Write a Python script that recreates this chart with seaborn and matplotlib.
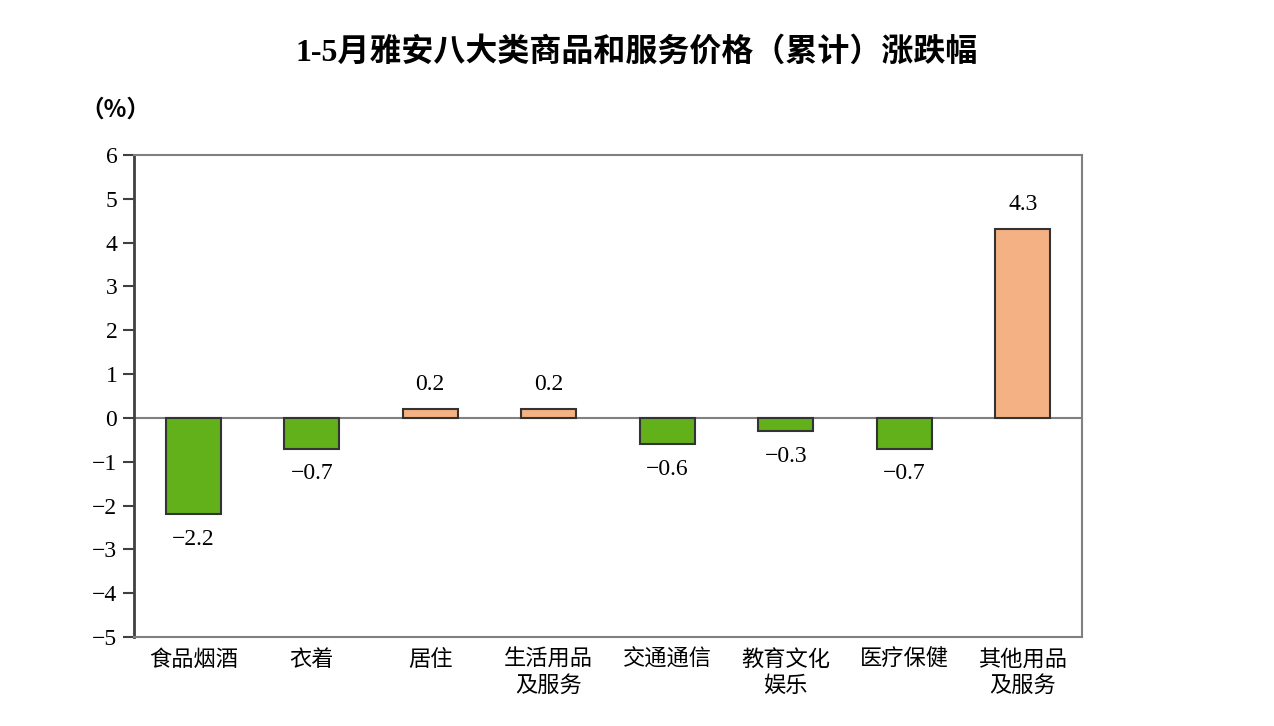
import numpy as np
import pandas as pd
import matplotlib
matplotlib.use("Agg")
import matplotlib.pyplot as plt
import seaborn as sns

# DATA
categories = ["食品烟酒", "衣着", "居住", "生活用品\n及服务", "交通通信",
              "教育文化\n娱乐", "医疗保健", "其他用品\n及服务"]
values = [-2.2, -0.7, 0.2, 0.2, -0.6, -0.3, -0.7, 4.3]
y_ticks = [6, 5, 4, 3, 2, 1, 0, -1, -2, -3, -4, -5]

GREEN = "#62B01A"
ORANGE = "#F4B183"

sns.set_theme(style="white")
plt.rcParams['font.family'] = ['Liberation Serif', 'Noto Sans CJK SC', 'DejaVu Sans']
plt.rcParams['axes.unicode_minus'] = True
plt.rcParams['text.color'] = 'black'

df = pd.DataFrame({"cat": categories, "val": values})
df["sign"] = np.where(df["val"] >= 0, "up", "down")

fig = plt.figure(figsize=(12.74, 7.26), dpi=100)
ax = fig.add_axes([134 / 1274, 1 - 637 / 726, 948 / 1274, 482 / 726])

sns.barplot(data=df, x="cat", y="val", hue="sign", palette={"up": ORANGE, "down": GREEN},
            dodge=False, width=0.46, saturation=1, edgecolor="#333333", linewidth=1.5,
            legend=False, ax=ax)

ax.axhline(0, color="#808080", lw=1.5, zorder=0.5)
ax.set_ylim(-5, 6)
ax.set_xlim(-0.5, len(categories) - 0.5)
ax.set_yticks(y_ticks)
ax.set_yticklabels([str(t).replace("-", "\u2212") for t in y_ticks], fontsize=17,
                   color="black")
ax.set_xticks(range(len(categories)))
ax.set_xticklabels(categories, fontsize=16, family=['Noto Sans CJK SC', 'DejaVu Sans'],
                   linespacing=1.15, va="top", color="black")
ax.set_xlabel("")
ax.set_ylabel("")
ax.tick_params(axis="y", which="both", left=True, length=8, width=1.5, color="#404040", pad=4)
ax.tick_params(axis="x", length=0, pad=8)

for side in ["top", "right", "bottom"]:
    ax.spines[side].set_color("#808080")
    ax.spines[side].set_linewidth(1.5)
ax.spines["left"].set_color("#404040")
ax.spines["left"].set_linewidth(2)

# value labels
for i, v in enumerate(values):
    off = 18 if v >= 0 else -18
    ax.annotate(f"{v:.1f}".replace("-", "\u2212"), (i, v), xytext=(0, off),
                textcoords="offset points", ha="center", va="center", fontsize=17,
                color="black")

fig.text(637 / 1274, 1 - 52 / 726, "1-5月雅安八大类商品和服务价格（累计）涨跌幅",
         ha="center", va="center", fontsize=23, fontweight="bold", color="black",
         family=['Liberation Serif', 'Noto Sans CJK SC'])
fig.text(115 / 1274, 1 - 110 / 726, "（%）", ha="center", va="center", fontsize=17,
         fontweight="bold", color="black", family=['Noto Sans CJK SC', 'DejaVu Sans'])

fig.savefig("out.png", dpi=100)
